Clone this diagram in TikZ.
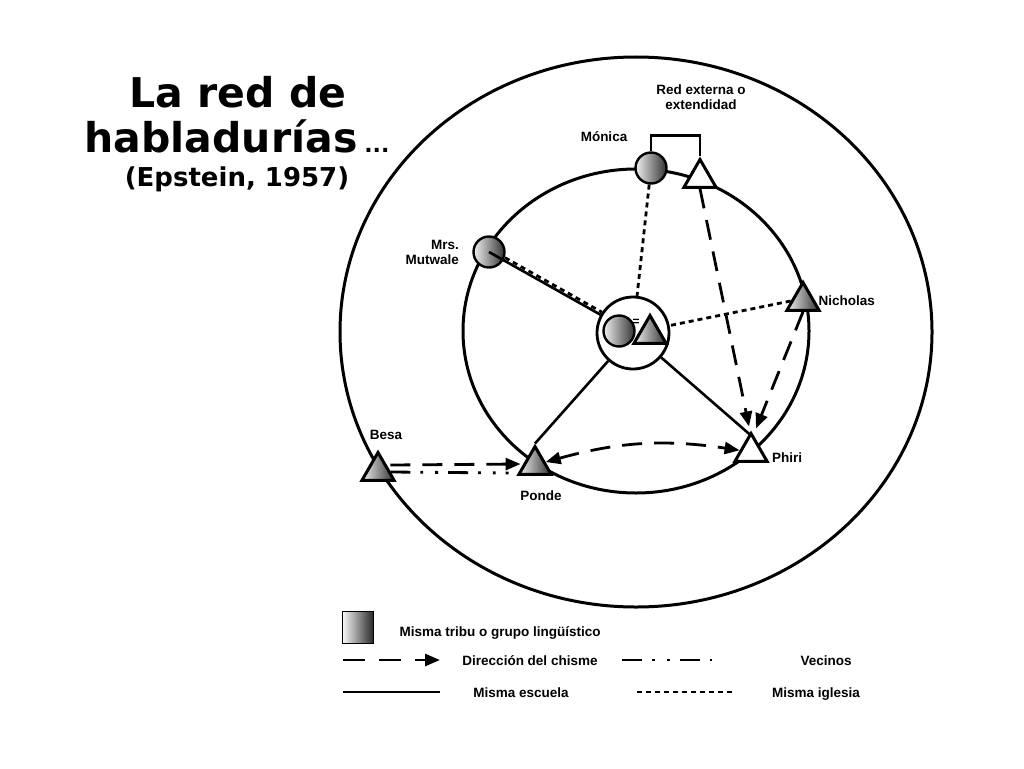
\documentclass[tikz,border=0pt]{standalone}
\usepackage{fontspec}
\setmainfont{Liberation Sans}
\newfontfamily\titlefont{DejaVu Sans}
\usetikzlibrary{positioning,shapes.geometric,arrows.meta}

\tikzset{
  lbl/.style={font=\fontsize{13.5}{15}\selectfont\bfseries, align=center, inner sep=0pt},
  ttl/.style={font=\titlefont\bfseries, anchor=base, inner sep=0pt},
  ball/.style={circle, draw, line width=2.4pt, minimum size=31pt, inner sep=0pt,
    left color=gray!12, right color=black!80},
  tri/.style={regular polygon, regular polygon sides=3, draw, line width=3pt,
    minimum size=37pt, inner sep=0pt, fill=white},
  gtri/.style={tri, left color=gray!12, right color=black!80},
  escuela/.style={line width=2.6pt},
  chisme/.style={line width=2.8pt, dash pattern=on 20pt off 12pt},
  iglesia/.style={line width=2.8pt, dash pattern=on 5pt off 4pt},
  vecinos/.style={line width=2.8pt, dash pattern=on 20pt off 10pt on 2.8pt off 12pt on 2.8pt off 10pt},
  fl/.style={-{Triangle[length=15pt,width=12pt]}},
}

\begin{document}
\begin{tikzpicture}[x=1pt,y=-1pt]
  \useasboundingbox (0,0) rectangle (1024,768);

  \node[ttl, font=\titlefont\bfseries\fontsize{41}{41}\selectfont] (t1) at (238,107) {La red de};
  \node[ttl, font=\titlefont\bfseries\fontsize{41}{41}\selectfont] (t2) at (237,152)
    {habladurías\,{\fontsize{22}{22}\selectfont ...}};
  \node[ttl, font=\titlefont\bfseries\fontsize{26}{26}\selectfont] (t3) at (237,186) {(Epstein, 1957)};

  \draw[line width=3pt] (636,332) ellipse [x radius=296, y radius=275];
  \draw[line width=3pt] (636,331) ellipse [x radius=173, y radius=162];

  \node[circle, draw, line width=2.8pt, fill=white, minimum size=72pt] (cen) at (633,333) {};
  \node[ball] (cb) at (619,331) {};
  \node[gtri] (ct) at (650,334) {};
  \node[font=\fontsize{12}{12}\selectfont\bfseries, inner sep=0pt] (eq) at (636,322) {=};

  \node[ball] (mon) at (651,168) {};
  \node[tri] (monT) at (700,178) {};
  \node[ball] (mut) at (489,252) {};
  \node[gtri] (nic) at (803,301) {};
  \node[tri] (phi) at (751,452) {};
  \node[gtri] (pon) at (535,465) {};
  \node[gtri] (bes) at (378,471) {};

  \node[lbl] (redL) at (701,97) {Red externa o\\extendidad};
  \node[lbl] (monL) at (604,137) {Mónica};
  \node[lbl, align=right, anchor=east] (mutL) at (459,252) {Mrs.\\Mutwale};
  \node[lbl, right=3pt of nic] (nicL) {Nicholas};
  \node[lbl, anchor=west] (phiL) at (772,458) {Phiri};
  \node[lbl] (ponL) at (541,496) {Ponde};
  \node[lbl] (besL) at (386,435) {Besa};

  \draw[line width=2.6pt] (mon.north) -- ++(0,-16) -| (monT.north);

  \draw[escuela] (mut.center) -- (cen);
  \draw[iglesia, transform canvas={xshift=1.5pt,yshift=2.5pt}] (mut) -- (cen);
  \draw[iglesia] (mon) -- (cen);
  \draw[iglesia] (nic.west) -- (cen);
  \draw[escuela] (cen) -- (pon.north);
  \draw[escuela] (cen) -- ([yshift=-5pt]phi.north);

  \draw[chisme, fl] (monT.south) -- ([xshift=-2pt,yshift=4pt]phi.north);
  \draw[chisme, fl] (nic.south) -- ([xshift=5pt,yshift=2pt]phi.north);
  \draw[chisme, {Triangle[length=15pt,width=12pt]}-{Triangle[length=15pt,width=12pt]}]
    (pon) to[bend left=12] (phi);
  \draw[chisme, fl] ([yshift=6pt]bes.east) -- ([xshift=-2pt,yshift=1pt]pon.west);
  \draw[vecinos] ([yshift=-1pt]bes.east) -- ([xshift=-14pt,yshift=-8pt]pon.west);

  \node[rectangle, draw, line width=1pt, minimum width=31pt, minimum height=32pt,
    left color=gray!5, right color=black!85] (sq) at (358,627) {};
  \node[lbl, anchor=base] (sqL) at (500,636) {Misma tribu o grupo lingüístico};

  \coordinate (c1a) at (343,660);
  \coordinate (c1b) at (440,660);
  \coordinate (v1a) at (622,660);
  \coordinate (v1b) at (716,660);
  \coordinate (e1a) at (343,692);
  \coordinate (e1b) at (440,692);
  \coordinate (i1a) at (637,692);
  \coordinate (i1b) at (735,692);
  \draw[chisme, dash pattern=on 22pt off 14pt, fl] (c1a) -- (c1b);
  \draw[vecinos] (v1a) -- (v1b);
  \draw[escuela, line width=2.8pt] (e1a) -- (e1b);
  \draw[iglesia] (i1a) -- (i1b);
  \node[lbl, anchor=base] (chL) at (530,665) {Dirección del chisme};
  \node[lbl, anchor=base] (veL) at (826,665) {Vecinos};
  \node[lbl, anchor=base] (esL) at (521,697) {Misma escuela};
  \node[lbl, anchor=base] (igL) at (816,697) {Misma iglesia};
\end{tikzpicture}
\end{document}
